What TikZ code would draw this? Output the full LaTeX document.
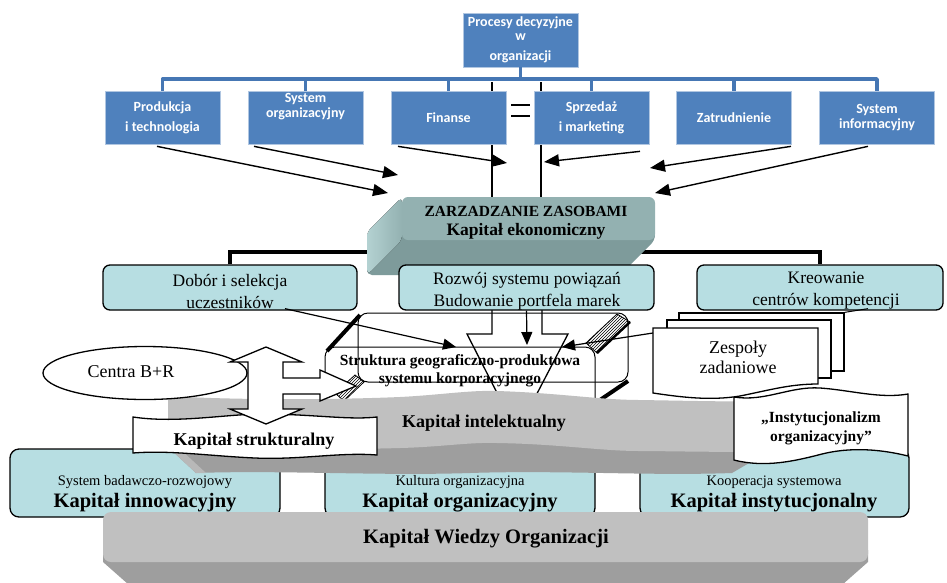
\documentclass[tikz,border=0pt]{standalone}
\usepackage{fontspec}
\setmainfont{Liberation Serif}
\newfontfamily\calfont{Carlito}
\usetikzlibrary{arrows.meta,patterns,shapes.geometric,calc}

\definecolor{bluebox}{HTML}{4F81BD}
\definecolor{busblue}{HTML}{4677B4}
\definecolor{cyanfill}{HTML}{B7DEE2}
\definecolor{tealfront}{HTML}{93B1B1}
\definecolor{tealside}{HTML}{B4D2D2}
\definecolor{tealbase}{HTML}{7E9B9B}
\definecolor{grayfront}{HTML}{C0C0C0}
\definecolor{graybase}{HTML}{9E9E9E}
\definecolor{grayside}{HTML}{B8B8B8}

\newcommand\fsz[2]{\fontsize{#1}{#2}\selectfont}

\begin{document}
\begin{tikzpicture}[x=1pt,y=-1pt,
  topbox/.style={fill=bluebox,draw=white!55!bluebox,line width=0.7pt,minimum width=115pt,minimum height=53pt,inner sep=0pt,text=white,align=center,font=\calfont\bfseries\fsz{14}{15}},
  lbl/.style={inner sep=0pt,align=center},
  midbox/.style={fill=cyanfill,draw=black,line width=1.3pt,rounded corners=7pt,minimum height=45pt,inner sep=0pt},
  basebox/.style={fill=cyanfill,draw=black,line width=1.3pt,rounded corners=9pt,minimum height=68pt,inner sep=0pt},
  outl/.style={draw=black,line width=1.3pt,fill=white},
  bus/.style={busblue,line width=3.5pt,line join=round},
  arr/.style={line width=1.4pt,-{Triangle[length=15pt,width=12pt]}},
  thinarr/.style={line width=1.2pt,-{Triangle[length=13pt,width=11pt]}},
]
\useasboundingbox (0,0) rectangle (947,582);
\fill[white] (0,0) rectangle (947,582);

% ---------- base row: three capital boxes ----------
\node[basebox,minimum width=270pt] (inno) at (145,483) {};
\node[basebox,minimum width=270pt] (orgb) at (460,483) {};
\node[basebox,minimum width=269pt] (inst) at (774.5,483) {};
\node[lbl,font=\fsz{14.5}{16}] (innoS) at (145,482) {System badawczo-rozwojowy};
\node[lbl,font=\bfseries\fsz{20.5}{22}] (innoB) at (145,503) {Kapitał innowacyjny};
\node[lbl,font=\fsz{14.5}{16}] (orgS) at (460,482) {Kultura organizacyjna};
\node[lbl,font=\bfseries\fsz{20.5}{22}] (orgB) at (460,503) {Kapitał organizacyjny};
\node[lbl,font=\fsz{14.5}{16}] (instS) at (774,482) {Kooperacja systemowa};
\node[lbl,font=\bfseries\fsz{20.5}{22}] (instB) at (774,503) {Kapitał instytucjonalny};

% ---------- knowledge slab ----------
\fill[graybase] (103,550) -- (868,550) -- (868,562) -- (834,592) -- (137,592) -- (103,562) -- cycle;
\node[fill=grayfront,rounded corners=8pt,minimum width=765pt,minimum height=50pt,inner sep=0pt] (slab) at (485.5,537) {};
\node[lbl,font=\bfseries\fsz{20.5}{22}] (slabT) at (486,539) {Kapitał Wiedzy Organizacji};

% ---------- structure block (wireframe box) ----------
\node[lbl,font=\bfseries\fsz{15.5}{18}] (strT) at (460,371) {Struktura geograficzno-produktowa\\systemu korporacyjnego};
\draw[line width=1pt,rounded corners=10pt] (358,313) rectangle (628,382);
\draw[line width=1pt,rounded corners=10pt] (325,347) rectangle (595,420);
\draw[line width=4pt] (360,315) -- (327,351);
\draw[line width=0.8pt,pattern=north east lines] (617,314) -- (630,322) -- (597,353) -- (586,343) -- cycle;
\draw[line width=2.5pt] (630,322) -- (597,353);
\draw[line width=0.8pt,pattern=north east lines] (355,375) -- (364,382) -- (344,401) -- (335,393) -- cycle;
\draw[line width=4pt] (628,381) -- (600,400);

% ---------- brand-portfolio block arrow (outline only) ----------
\coordinate (baL) at (492,310);
\coordinate (baR) at (542,310);
\draw[line width=1.3pt,line join=miter] (baL) -- (492,334) -- (467,334) -- (517,432) -- (568,334) -- (542,334) -- (baR);

% ---------- intellectual capital band ----------
\fill[graybase] (168,440) -- (768,440) -- (768,452) -- (732,473) .. controls (650,476) and (560,470) .. (470,473) .. controls (380,476) and (280,470) .. (196,473) -- (168,447) -- cycle;
\fill[grayside] (168,447) -- (196,473) -- (206,473) -- (180,449) -- cycle;
\fill[grayfront] (168,396) .. controls (230,400) and (330,400) .. (400,397) .. controls (440,395) and (470,390) .. (497,391) .. controls (560,393) and (600,400) .. (640,400) .. controls (700,401) and (740,402) .. (768,401)
  -- (768,452) .. controls (700,452) and (660,451) .. (640,451) .. controls (600,451) and (560,444) .. (497,443) .. controls (470,442) and (440,447) .. (400,448) .. controls (330,450) and (230,450) .. (168,447) -- cycle;
\node[lbl,font=\bfseries\fsz{18}{20}] (intT) at (484,423) {Kapitał intelektualny};

% ---------- institutionalism document ----------
\draw[outl] (734,397) .. controls (765,402) and (790,386) .. (820,388) .. controls (850,390) and (880,399) .. (908,394) -- (908,456) .. controls (880,449) and (850,447) .. (822,454) .. controls (795,461) and (765,468) .. (734,460) -- cycle;
\node[lbl,font=\bfseries\fsz{15.5}{19}] (instT) at (821,428) {„Instytucjonalizm\\organizacyjny”};

% ---------- task teams (stacked pages) ----------
\node[outl,minimum width=165pt,minimum height=58pt,inner sep=0pt] (zespBack) at (761.5,342) {};
\node[outl,minimum width=164pt,minimum height=58pt,inner sep=0pt] (zespMid) at (749,349) {};
\draw[outl] (653,328) -- (818,328) -- (818,384) .. controls (790,384) and (770,390) .. (740,396) .. controls (710,401) and (680,397) .. (653,393) -- cycle;
\coordinate (zespL) at (653,333);
\node[lbl,font=\fsz{18}{20}] (zespT) at (738,357) {Zespoły\\zadaniowe};

% ---------- structural capital banner ----------
\draw[outl] (133,417) .. controls (180,424) and (230,413) .. (270,414) .. controls (320,415) and (350,420) .. (377,417) -- (377,455) .. controls (340,452) and (300,460) .. (255,458) .. controls (210,456) and (170,450) .. (133,453) -- cycle;
\node[lbl,font=\bfseries\fsz{18}{20}] (strukT) at (254,441) {Kapitał strukturalny};

% ---------- R&D centres ----------
\node[ellipse,outl,minimum width=204pt,minimum height=53pt] (centra) at (145,373) {};
\node[lbl,font=\fsz{18}{20}] (centraT) at (131,372) {Centra B+R};

% ---------- up-down-right block arrow ----------
\draw[outl,line join=miter] (266,347) -- (302,362) -- (283,362) -- (283,378) -- (320,378) -- (320,370) -- (356,386) -- (320,401) -- (320,394) -- (283,394) -- (283,409) -- (302,409) -- (266,424) -- (230,409) -- (248,409) -- (248,362) -- (230,362) -- cycle;

% ---------- middle row ----------
\node[midbox,minimum width=254pt] (dobor) at (230,287.5) {};
\node[lbl,font=\fsz{17.5}{22}] (doborT) at (230,291) {Dobór i selekcja\\uczestników};
\node[midbox,minimum width=246pt] (kreo) at (820,287.5) {};
\node[lbl,font=\fsz{17.5}{22}] (kreoT) at (826,291) {Kreowanie\\centrów kompetencji};
\coordinate (zbus) at (0,252);
\draw[line width=4pt,line join=miter] (dobor.north) -- (dobor.north |- zbus) -- (kreo.north |- zbus) -- (kreo.north);

% management block (extruded box)
\fill[tealbase,rounded corners=5pt] (402,230) -- (655,230) -- (655,240) -- (620,275) -- (367,275) -- (367,240) -- cycle;
\fill[left color=tealside,right color=tealfront,rounded corners=5pt] (402,197) -- (402,240) -- (367,275) -- (367,232) -- cycle;
\node[fill=tealfront,rounded corners=6pt,minimum width=253pt,minimum height=43pt,inner sep=0pt] (zarz) at (528.5,218.5) {};
\node[lbl,font=\bfseries\fsz{15.5}{18}] (zarzT1) at (526,211) {ZARZADZANIE ZASOBAMI};
\node[lbl,font=\bfseries\fsz{17.5}{20}] (zarzT2) at (526,231) {Kapitał ekonomiczny};

\node[midbox,minimum width=255pt] (roz) at (526.5,287.5) {};
\node[lbl,font=\fsz{17.5}{22}] (rozT) at (527,291) {Rozwój systemu powiązań\\Budowanie portfela marek};

% ---------- decision processes (top) ----------
\coordinate (vl) at (492,82);
\coordinate (vr) at (541,82);
\draw[line width=1.2pt] (vl) -- (vl |- zarz.north);
\draw[line width=1.2pt] (vr) -- (vr |- zarz.north);

\node[topbox,minimum height=54pt] (proc) at (520.5,40) {Procesy decyzyjne\\[-1pt]w\\[5pt]organizacji};
\node[topbox] (prod) at (162.5,117.5) {Produkcja\\[5pt]i technologia};
\node[topbox] (sysorg) at (305.5,117.5) {};
\node[lbl,text=white,font=\calfont\bfseries\fsz{14}{15}] (sysorgT) at (305.5,107) {System\\organizacyjny};
\node[topbox] (fin) at (448.5,117.5) {Finanse};
\node[topbox] (sprz) at (591.5,117.5) {Sprzedaż\\[5pt]i marketing};
\node[topbox] (zatr) at (734,117.5) {Zatrudnienie};
\node[topbox] (sysinf) at (877,117.5) {System\\informacyjny};

\coordinate (busY) at (0,79);
\draw[bus] (prod.north) -- (prod.north |- busY) -- (sysinf.north |- busY) -- (sysinf.north);
\foreach \b in {sysorg,fin,sprz,zatr} \draw[bus] (\b.north) -- (\b.north |- busY);
\draw[bus] (proc.south) -- (proc.south |- busY);

% equality sign between finance and sales
\coordinate (eqA) at (511,105);
\coordinate (eqB) at (511,116);
\draw[line width=1.5pt] (eqA) -- ++(19,0);
\draw[line width=1.5pt] (eqB) -- ++(19,0);

% inputs to resource management
\coordinate (t1) at (388,193);
\coordinate (t2) at (398,175);
\coordinate (t3) at (507,163);
\coordinate (t4) at (544,162);
\coordinate (t5) at (650,168);
\coordinate (t6) at (655,193);
\draw[arr] ($(prod.south)+(-5.5,2)$) -- (t1);
\draw[arr] ($(sysorg.south)+(-51.5,2)$) -- (t2);
\draw[arr] ($(fin.south)+(-50.5,2)$) -- (t3);
\draw[arr] ($(sprz.south)+(48.5,7)$) -- (t4);
\draw[arr] ($(zatr.south)+(57,2)$) -- (t5);
\draw[arr] ($(sysinf.south)+(-9,2)$) -- (t6);

% inputs to the corporate structure
\coordinate (s1) at (456,347);
\coordinate (s2) at (527,345);
\coordinate (s3) at (562,347);
\draw[thinarr] ($(dobor.south)+(55,-2)$) -- (s1);
\draw[thinarr] (roz.south) -- (s2);
\draw[thinarr] (zespL) -- (s3);
\draw[line width=1pt] ($(kreo.south)+(48,-2)$) -- (zespBack.north east);
\end{tikzpicture}
\end{document}
